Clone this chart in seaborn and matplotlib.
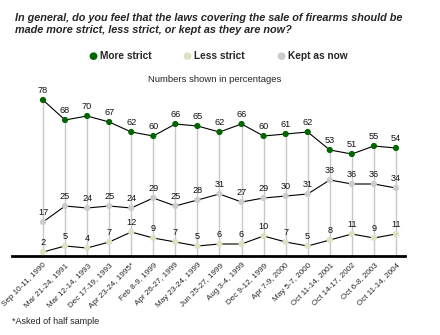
import matplotlib
matplotlib.use("Agg")
import matplotlib.pyplot as plt
import seaborn as sns
import pandas as pd

dates = ["Sep 10-11, 1990", "Mar 21-24, 1991", "Mar 12-14, 1993", "Dec 17-19, 1993",
         "Apr 23-24, 1995*", "Feb 8-9, 1999", "Apr 26-27, 1999", "May 23-24, 1999",
         "Jun 25-27, 1999", "Aug 3-4, 1999", "Dec 9-12, 1999", "Apr 7-9, 2000",
         "May 5-7, 2000", "Oct 11-14, 2001", "Oct 14-17, 2002", "Oct 6-8, 2003",
         "Oct 11-14, 2004"]
more_strict = [78, 68, 70, 67, 62, 60, 66, 65, 62, 66, 60, 61, 62, 53, 51, 55, 54]
less_strict = [2, 5, 4, 7, 12, 9, 7, 5, 6, 6, 10, 7, 5, 8, 11, 9, 11]
kept_as_now = [17, 25, 24, 25, 24, 29, 25, 28, 31, 27, 29, 30, 31, 38, 36, 36, 34]

series_names = ["More strict", "Less strict", "Kept as now"]
colors = {"More strict": "#006600", "Less strict": "#E0DFBF", "Kept as now": "#CCCCCC"}

sns.set_style("white")
plt.rcParams["font.family"] = ["Liberation Sans", "DejaVu Sans"]

rows = []
for name, vals in zip(series_names, [more_strict, less_strict, kept_as_now]):
    for i, v in enumerate(vals):
        rows.append({"x": i, "value": v, "series": name})
df = pd.DataFrame(rows)

W, H = 440, 335
fig = plt.figure(figsize=(W / 100, H / 100), dpi=100)
ax = fig.add_axes([12 / W, (H - 256) / H, 393 / W, 171 / H])

xs = list(range(len(dates)))
ax.vlines(xs, 0, more_strict, color="#C8C8C8", lw=1.0, zorder=1)

for name in series_names:
    sub = df[df.series == name]
    sns.lineplot(data=sub, x="x", y="value", color="black", lw=0.8, ax=ax,
                 zorder=2, legend=False)
sns.scatterplot(data=df, x="x", y="value", hue="series", palette=colors,
                hue_order=series_names, s=20, edgecolor="none", ax=ax,
                zorder=3, legend=False)

for name, vals in zip(series_names, [more_strict, less_strict, kept_as_now]):
    for i, v in enumerate(vals):
        ax.annotate(str(v), (i, v), xytext=(0, 3.5), textcoords="offset points",
                    ha="center", va="bottom", fontsize=6.6, color="#111111")

ax.set_xlim(-1.405, 16.41)
ax.set_ylim(0, 85.5)
ax.set_xticks(xs)
ax.set_xticklabels(dates, rotation=45, ha="right", rotation_mode="anchor",
                   fontsize=5.8)
ax.tick_params(axis="x", length=0, pad=4)
ax.set_yticks([])
ax.set_xlabel("")
ax.set_ylabel("")
for s in ["top", "right", "left"]:
    ax.spines[s].set_visible(False)
ax.spines["bottom"].set_linewidth(2)
ax.spines["bottom"].set_color("black")

fig.text(15 / W, 1 - 13 / H,
         "In general, do you feel that the laws covering the sale of firearms should be\n"
         "made more strict, less strict, or kept as they are now?",
         fontsize=7.8, fontweight="bold", style="italic", va="top", ha="left",
         linespacing=1.2)

leg_x = [93, 187, 281]
for name, lx in zip(series_names, leg_x):
    fig.text(lx / W, 1 - 56 / H, "\u25CF", color=colors[name], fontsize=7.5,
             ha="center", va="center", family="DejaVu Sans")
    fig.text((lx + 7) / W, 1 - 56 / H, name, fontsize=7.3, fontweight="bold",
             ha="left", va="center")

fig.text(215 / W, 1 - 80 / H, "Numbers shown in percentages", fontsize=6.8,
         ha="center", va="center")
fig.text(12 / W, 1 - 322 / H, "*Asked of half sample", fontsize=6.5,
         ha="left", va="center")

fig.savefig("out.png", dpi=100)
